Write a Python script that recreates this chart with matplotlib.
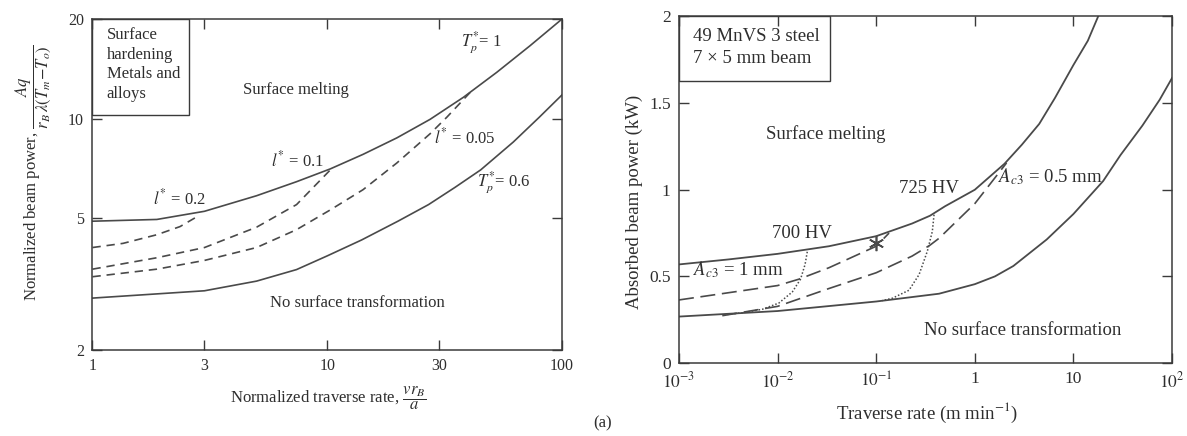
import matplotlib
matplotlib.use("Agg")
import matplotlib.pyplot as plt
from matplotlib.ticker import FixedLocator, NullLocator

plt.rcParams['font.family'] = ['Liberation Serif', 'DejaVu Serif']
plt.rcParams['mathtext.fontset'] = 'stix'

# ---------------- Left panel data (normalized) ----------------
left_x_tp1 = [1, 1.88, 3.0, 5.0, 7.4, 10.3, 14.2, 19.8, 27.4, 38, 52.7, 73, 100]
left_y_tp1 = [4.9, 4.96, 5.25, 5.85, 6.45, 7.05, 7.8, 8.75, 9.95, 11.6, 13.8, 16.6, 20.0]

left_x_tp06 = [1, 3, 5, 7.4, 10, 14, 20, 27, 35, 45, 62, 80, 100]
left_y_tp06 = [2.87, 3.02, 3.23, 3.5, 3.85, 4.3, 4.9, 5.5, 6.2, 7.0, 8.5, 10.1, 11.8]

left_x_l02 = [1, 1.35, 1.88, 2.36, 2.78]
left_y_l02 = [4.08, 4.2, 4.46, 4.72, 5.05]

left_x_l01 = [1, 1.88, 3.0, 5.0, 7.4, 10.3]
left_y_l01 = [3.51, 3.8, 4.08, 4.7, 5.5, 7.0]

left_x_l005 = [1, 1.88, 3.0, 5.0, 7.4, 10.3, 14.2, 19.8, 27.4, 32.3, 40.6]
left_y_l005 = [3.33, 3.51, 3.73, 4.08, 4.62, 5.3, 6.1, 7.35, 9.0, 10.1, 12.0]

left_xticks = [1, 3, 10, 30, 100]
left_xticklabels = ['1', '3', '10', '30', '100']
left_yticks = [2, 5, 10, 20]
left_yticklabels = ['2', '5', '10', '20']

# ---------------- Right panel data (49 MnVS 3 steel) ----------------
right_x_upper = [1e-3, 0.0032, 0.01, 0.0332, 0.1, 0.231, 0.351, 0.5, 1.0, 2.0, 3.0, 4.5, 6.5, 10, 14, 17.8]
right_y_upper = [0.569, 0.598, 0.63, 0.674, 0.732, 0.805, 0.85, 0.905, 1.0, 1.15, 1.26, 1.38, 1.53, 1.72, 1.86, 2.0]

right_x_lower = [1e-3, 0.01, 0.1, 0.434, 1.0, 1.6, 2.46, 5.36, 10, 20, 30, 50, 75, 100]
right_y_lower = [0.268, 0.30, 0.355, 0.40, 0.455, 0.5, 0.56, 0.713, 0.86, 1.05, 1.2, 1.37, 1.52, 1.645]

right_x_ac3_1 = [1e-3, 0.01, 0.0165, 0.0332, 0.1, 0.135]
right_y_ac3_1 = [0.364, 0.447, 0.484, 0.55, 0.674, 0.75]

right_x_ac3_05 = [0.00275, 0.01, 0.0332, 0.1, 0.231, 0.351, 0.434, 1.0, 2.1]
right_y_ac3_05 = [0.273, 0.327, 0.43, 0.521, 0.617, 0.68, 0.72, 0.92, 1.155]

right_x_700hv = [0.02, 0.019, 0.0171, 0.0141, 0.0103, 0.007, 0.0044, 0.00275]
right_y_700hv = [0.642, 0.569, 0.484, 0.41, 0.346, 0.31, 0.29, 0.277]

right_x_725hv = [0.386, 0.371, 0.33, 0.272, 0.215, 0.146, 0.115]
right_y_725hv = [0.856, 0.76, 0.645, 0.51, 0.42, 0.374, 0.36]

star_x = [0.1]
star_y = [0.694]

right_xticks = [1e-3, 1e-2, 1e-1, 1, 10, 100]
right_xticklabels = [r'$10^{-3}$', r'$10^{-2}$', r'$10^{-1}$', '1', '10', r'$10^{2}$']
right_yticks = [0, 0.5, 1, 1.5, 2]
right_yticklabels = ['0', '0.5', '1', '1.5', '2']

LC = '#4a4a4a'
TC = '#2e2e2e'
FSL = 12
FSR = 13.5

fig = plt.figure(figsize=(11.87, 4.36), dpi=100)
axL = fig.add_axes([0.0779, 0.1972, 0.4735 - 0.0779, 0.9564 - 0.1972])
axR = fig.add_axes([0.572, 0.1674, 0.9874 - 0.572, 0.9622 - 0.1674])

for ax, ls in ((axL, 11.5), (axR, 12.5)):
    for s in ax.spines.values():
        s.set_color('#3a3a3a')
        s.set_linewidth(1.1)
    ax.tick_params(direction='in', length=7, width=1.0, color='#3a3a3a',
                   top=True, right=True, labelsize=ls, labelcolor=TC, pad=6)

# ---------- left ----------
axL.set_xscale('log')
axL.set_yscale('log')
axL.set_xlim(1, 100)
axL.set_ylim(2, 20)
axL.plot(left_x_tp1, left_y_tp1, color=LC, lw=1.2)
axL.plot(left_x_tp06, left_y_tp06, color=LC, lw=1.2)
for xs, ys in ((left_x_l02, left_y_l02), (left_x_l01, left_y_l01), (left_x_l005, left_y_l005)):
    axL.plot(xs, ys, color=LC, lw=1.2, linestyle=(0, (5, 3.5)))
axL.xaxis.set_major_locator(FixedLocator(left_xticks))
axL.xaxis.set_minor_locator(NullLocator())
axL.set_xticklabels(left_xticklabels)
axL.yaxis.set_major_locator(FixedLocator(left_yticks))
axL.yaxis.set_minor_locator(NullLocator())
axL.set_yticklabels(left_yticklabels)

def tl(ax, x, y, s, fs, **kw):
    ax.text(x, y, s, transform=ax.transAxes, ha=kw.pop('ha', 'center'), va='center',
            fontsize=fs, color=TC, **kw)

tl(axL, 0.433, 0.785, 'Surface melting', FSL)
tl(axL, 0.565, 0.142, 'No surface transformation', FSL)
tl(axL, 0.186, 0.457, r'$l^{*}$ = 0.2', FSL)
tl(axL, 0.437, 0.573, r'$l^{*}$ = 0.1', FSL)
tl(axL, 0.793, 0.643, r'$l^{*}$ = 0.05', FSL)
tl(axL, 0.829, 0.93, r'$T_p^{*}$= 1', FSL)
tl(axL, 0.876, 0.507, r'$T_p^{*}$= 0.6', FSL)
axL.add_patch(plt.Rectangle((0, 0.71), 0.205, 0.29, transform=axL.transAxes, fill=False,
                            edgecolor='#3a3a3a', lw=1.0))
axL.text(0.03, 0.975, 'Surface\nhardening\nMetals and\nalloys', transform=axL.transAxes,
         ha='left', va='top', fontsize=FSL, color=TC, linespacing=1.3)

# ---------- right ----------
axR.set_xscale('log')
axR.set_xlim(1e-3, 1e2)
axR.set_ylim(0, 2)
axR.plot(right_x_upper, right_y_upper, color=LC, lw=1.3)
axR.plot(right_x_lower, right_y_lower, color=LC, lw=1.3)
axR.plot(right_x_ac3_1, right_y_ac3_1, color=LC, lw=1.2, linestyle=(0, (9, 4)))
axR.plot(right_x_ac3_05, right_y_ac3_05, color=LC, lw=1.2, linestyle=(0, (9, 4)))
axR.plot(right_x_700hv, right_y_700hv, color=LC, lw=1.1, linestyle=(0, (1, 1.3)))
axR.plot(right_x_725hv, right_y_725hv, color=LC, lw=1.1, linestyle=(0, (1, 1.3)))
axR.plot(star_x, star_y, linestyle='none', marker=(6, 2, 0), markersize=11, color=LC, markeredgewidth=1.2)
axR.xaxis.set_major_locator(FixedLocator(right_xticks))
axR.xaxis.set_minor_locator(NullLocator())
axR.set_xticklabels(right_xticklabels)
axR.yaxis.set_major_locator(FixedLocator(right_yticks))
axR.set_yticklabels(right_yticklabels)

tl(axR, 0.298, 0.661, 'Surface melting', FSR)
tl(axR, 0.697, 0.094, 'No surface transformation', FSR)
tl(axR, 0.249, 0.375, '700 HV', FSR)
tl(axR, 0.506, 0.504, '725 HV', FSR)
tl(axR, 0.754, 0.537, r'$A_{c3}$ = 0.5 mm', FSR)
tl(axR, 0.121, 0.27, r'$A_{c3}$ = 1 mm', FSR)
axR.add_patch(plt.Rectangle((0, 0.814), 0.306, 0.186, transform=axR.transAxes, fill=False,
                            edgecolor='#3a3a3a', lw=1.0))
tl(axR, 0.028, 0.943, '49 MnVS 3 steel', FSR, ha='left')
tl(axR, 0.028, 0.879, '7 × 5 mm beam', FSR, ha='left')

# ---------- axis labels ----------
fig.text(33 / 1187, 0.603, r'Normalized beam power, $\dfrac{Aq}{r_B\,\lambda(T_m\!-\!T_o)}$',
         rotation=90, ha='center', va='center', fontsize=FSL, color=TC)
fig.text(328 / 1187, 0.087, r'Normalized traverse rate, $\dfrac{vr_B}{a}$',
         ha='center', va='center', fontsize=FSL, color=TC)
fig.text(634 / 1187, 0.537, 'Absorbed beam power (kW)', rotation=90, ha='center', va='center',
         fontsize=FSR, color=TC)
fig.text(927 / 1187, 0.053, r'Traverse rate (m min$^{-1}$)', ha='center', va='center',
         fontsize=FSR, color=TC)
fig.text(603 / 1187, 0.030, '(a)', ha='center', va='center', fontsize=FSL, color=TC)

fig.savefig('out.png', dpi=100, facecolor='white')
